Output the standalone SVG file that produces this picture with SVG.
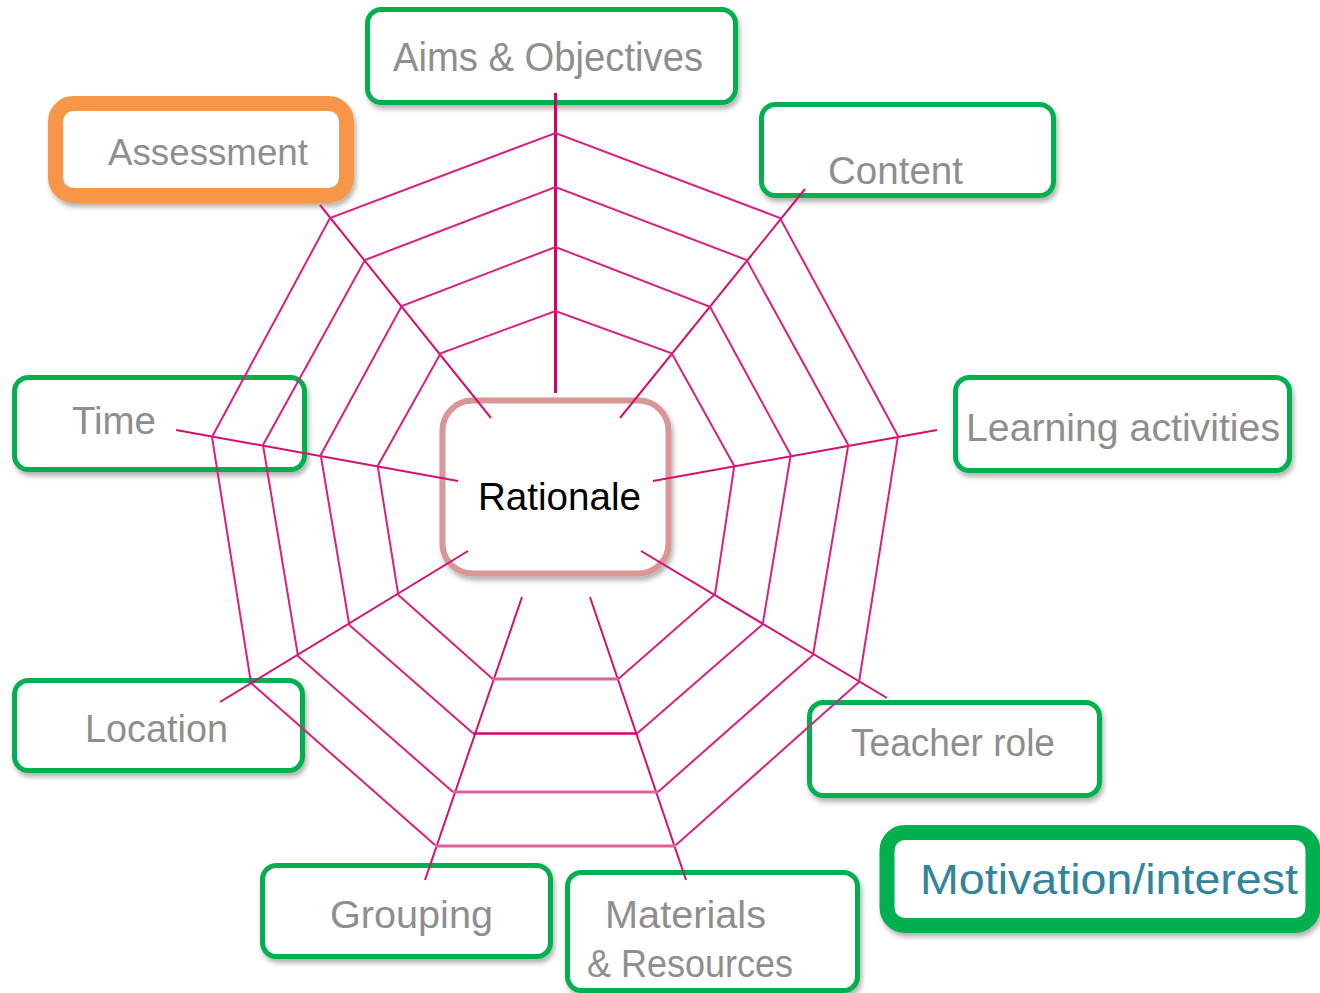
<svg xmlns="http://www.w3.org/2000/svg" width="1320" height="993" viewBox="0 0 1320 993">
<defs>
<filter id="sh" x="-10%" y="-10%" width="125%" height="135%">
<feDropShadow dx="2" dy="4" stdDeviation="2.5" flood-color="#000" flood-opacity="0.3"/>
</filter>
<style>
.box{fill:#fff;filter:url(#sh)}
.g{stroke:#00B050;stroke-width:5}
.lbl{font-family:"Liberation Sans",Arial,sans-serif;fill:#8e8e8e;lengthAdjust:spacingAndGlyphs}
.web{fill:none;stroke:#d9207f;stroke-width:2;stroke-linejoin:miter}
.spoke{stroke:#d4106f;stroke-width:2}
</style>
</defs>
<rect width="1320" height="993" fill="#fff"/>

<g id="node-aims">
<rect class="box g" x="367.5" y="9.5" width="368" height="93" rx="14"/>
<text class="lbl" x="393" y="71" font-size="40" textLength="310" lengthAdjust="spacingAndGlyphs">Aims &amp; Objectives</text>
</g>
<g id="node-assessment">
<rect class="box" x="55.5" y="103.5" width="291" height="92" rx="18" stroke="#F79646" stroke-width="15"/>
<text class="lbl" x="108" y="165" font-size="36" textLength="200" lengthAdjust="spacingAndGlyphs">Assessment</text>
</g>
<g id="node-content">
<rect class="box g" x="761.5" y="104.5" width="292" height="91" rx="14"/>
<text class="lbl" x="828" y="184" font-size="39" textLength="135" lengthAdjust="spacingAndGlyphs">Content</text>
</g>
<g id="node-time">
<rect class="box g" x="14.5" y="377.5" width="290" height="92" rx="14"/>
<text class="lbl" x="72" y="434" font-size="38" textLength="84" lengthAdjust="spacingAndGlyphs">Time</text>
</g>
<g id="node-learning">
<rect class="box g" x="955.5" y="377.5" width="334" height="93" rx="14"/>
<text class="lbl" x="966" y="441" font-size="38" textLength="314" lengthAdjust="spacingAndGlyphs">Learning activities</text>
</g>
<g id="node-rationale">
<rect class="box" x="442.5" y="400.5" width="226" height="173" rx="30" stroke="#D99694" stroke-width="6"/>
<text x="478" y="510" font-family="'Liberation Sans',Arial,sans-serif" font-size="39" fill="#000" textLength="163" lengthAdjust="spacingAndGlyphs">Rationale</text>
</g>
<g id="node-location">
<rect class="box g" x="14.5" y="680.5" width="288" height="90" rx="14"/>
<text class="lbl" x="85" y="742" font-size="38" textLength="143" lengthAdjust="spacingAndGlyphs">Location</text>
</g>
<g id="node-teacher">
<rect class="box g" x="809.5" y="702.5" width="290" height="93" rx="14"/>
<text class="lbl" x="851" y="756" font-size="38" textLength="204" lengthAdjust="spacingAndGlyphs">Teacher role</text>
</g>
<g id="node-motivation">
<rect class="box" x="887" y="832.5" width="426" height="93" rx="18" stroke="#00B050" stroke-width="15"/>
<text x="920" y="894" font-family="'Liberation Sans',Arial,sans-serif" font-size="42" fill="#31849B" textLength="378" lengthAdjust="spacingAndGlyphs">Motivation/interest</text>
</g>
<g id="node-grouping">
<rect class="box g" x="262.5" y="865.5" width="288" height="91" rx="14"/>
<text class="lbl" x="330" y="928" font-size="38" textLength="163" lengthAdjust="spacingAndGlyphs">Grouping</text>
</g>
<g id="node-materials">
<rect class="box g" x="567.5" y="872.5" width="290" height="118" rx="14"/>
<text class="lbl" x="605" y="928" font-size="38" textLength="161" lengthAdjust="spacingAndGlyphs">Materials</text>
<text class="lbl" x="587" y="977" font-size="38" textLength="206" lengthAdjust="spacingAndGlyphs">&amp; Resources</text>
</g>

<g id="connectors">
<line x1="555.5" y1="93" x2="555.5" y2="393" stroke="#d4006f" stroke-width="3"/>
<line class="spoke" x1="320" y1="205" x2="491" y2="418"/>
<line class="spoke" x1="805" y1="189" x2="620" y2="418"/>
<line class="spoke" x1="937" y1="430" x2="653" y2="481"/>
<line class="spoke" x1="641" y1="551" x2="887" y2="698"/>
<line class="spoke" x1="590" y1="597" x2="686" y2="880"/>
<line class="spoke" x1="522" y1="597" x2="425" y2="880"/>
<line class="spoke" x1="468" y1="551" x2="220" y2="702"/>
<line class="spoke" x1="176" y1="430" x2="458" y2="481"/>
<polyline class="web" points="435,845 251,683 212,437 330,218 555.5,133 780,218 898,436 859,682 676,845"/>
<polyline class="web" points="453,792 298,656 263,445 365,260 555.5,187 746.7,260 848.3,445 813,655 658,792"/>
<polyline class="web" points="472.7,733 349.3,625 320.7,455 401.7,306 555.5,247 710,306.7 790.7,455 762.7,624.3 637.7,733"/>
<polyline class="web" points="492.7,679 398.3,595 377.7,466 440.7,353.3 555.5,311 671.7,353.3 734.3,466 715,594.3 618.3,679"/>
<line x1="435" y1="846" x2="676" y2="846" stroke="#e0609a" stroke-width="3"/>
<line x1="453" y1="792" x2="658" y2="792" stroke="#e0609a" stroke-width="3"/>
<line x1="472.7" y1="733.5" x2="637.7" y2="733.5" stroke="#d4006f" stroke-width="2.5"/>
<line x1="492.7" y1="679" x2="618.3" y2="679" stroke="#e0609a" stroke-width="3"/>
</g>
</svg>
